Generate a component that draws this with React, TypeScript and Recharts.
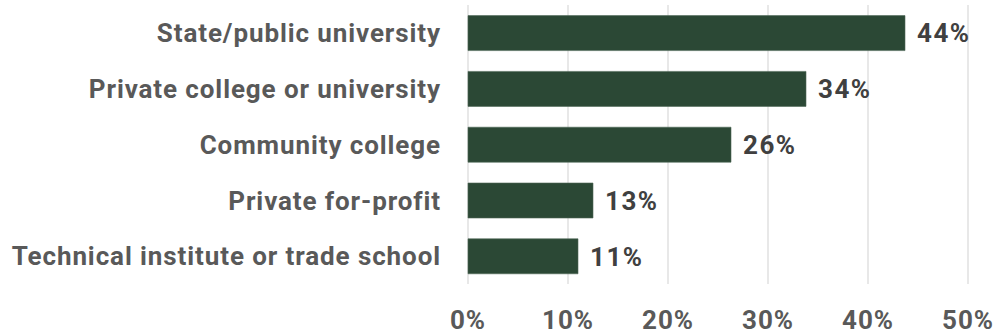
import { Bar, BarChart, CartesianGrid, LabelList, XAxis, YAxis } from "recharts";

const categories = [
  "State/public university",
  "Private college or university",
  "Community college",
  "Private for-profit",
  "Technical institute or trade school",
];
const shares = [43.7, 33.8, 26.3, 12.5, 11.0];
const xTicks = [0, 10, 20, 30, 40, 50];

const data = categories.map((name, i) => ({ name, share: shares[i] }));

const font = "Roboto, 'DejaVu Sans', sans-serif";
const textStyle = { fontSize: 26, fontWeight: 700, fontFamily: font, letterSpacing: 0.9 };

export default function App() {
  return (
    <div style={{ position: "fixed", left: 0, top: 0, width: 995, height: 334, background: "#fff" }}>
      <BarChart
        width={995}
        height={334}
        data={data}
        layout="vertical"
        margin={{ top: 5, right: 27, bottom: 0, left: 0 }}
        barCategoryGap="19%"
      >
        <CartesianGrid horizontal={false} stroke="#d9d9d9" strokeWidth={1.2} />
        <XAxis
          type="number"
          domain={[0, 50]}
          ticks={xTicks}
          tickFormatter={(v: number) => `${v}%`}
          axisLine={false}
          tickLine={false}
          tickSize={0}
          tickMargin={27}
          height={50}
          interval={0}
          tick={{ fill: "#595959", ...textStyle }}
        />
        <YAxis
          type="category"
          dataKey="name"
          width={468}
          axisLine={false}
          tickLine={false}
          tickSize={0}
          tickMargin={27}
          interval={0}
          tick={{ fill: "#595959", ...textStyle }}
        />
        <Bar dataKey="share" fill="#2b4835" stroke="#4d6655" strokeWidth={0.6} isAnimationActive={false}>
          <LabelList
            dataKey="share"
            position="right"
            offset={12}
            formatter={(v: number) => `${Math.round(v)}%`}
            style={{ fill: "#404040", ...textStyle, letterSpacing: 1.5 }}
          />
        </Bar>
      </BarChart>
    </div>
  );
}
